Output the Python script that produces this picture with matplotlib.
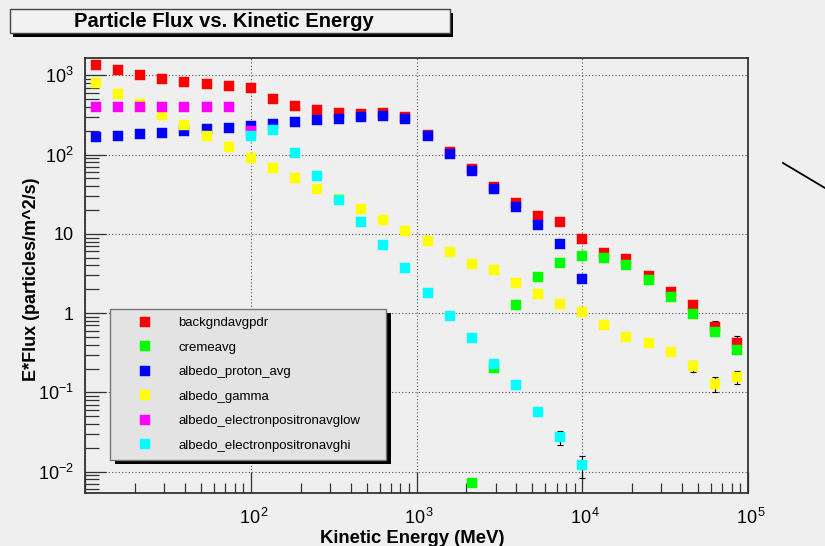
import numpy as np
import matplotlib.pyplot as plt
from matplotlib.patches import Rectangle
from matplotlib.lines import Line2D
from matplotlib.ticker import LogLocator, FuncFormatter, NullFormatter

plt.rcParams['font.family'] = ['Liberation Sans', 'DejaVu Sans']
plt.rcParams['mathtext.fontset'] = 'custom'
plt.rcParams['mathtext.rm'] = 'Liberation Sans'

# bin centres (MeV)
energy = [11.7, 15.8, 21.5, 29.3, 39.8, 54.1, 73.6, 100, 136, 185,
          251, 341, 464, 631, 858, 1166, 1585, 2154, 2929, 3981,
          5412, 7356, 10000, 13594, 18478, 25119, 34146, 46416, 63096, 85770]

# E*Flux values
backgndavgpdr = [1365, 1170, 1000, 900, 826, 779, 741, 693, 504, 406,
                 362, 339, 329, 336, 295, 179, 109, 65.3, 38.7, 24.6,
                 16.7, 14.3, 8.65, 5.69, 4.88, 2.90, 1.86, 1.26, 0.677, 0.426]
cremeavg = [0.0071, 0.202, 1.25, 2.84, 4.31, 5.28, 4.98, 4.02, 2.60, 1.59,
            0.969, 0.574, 0.347]  # starts at bin 17
albedo_proton_avg = [167, 174, 180, 189, 199, 211, 217, 230, 246, 258,
                     274, 284, 299, 308, 284, 172, 103, 61.5, 36.5, 21.7,
                     13.1, 7.48, 2.71]  # bins 0-22
albedo_gamma = [792, 582, 431, 317, 234, 174, 126, 91.6, 67.9, 50.2,
                37.2, 27.6, 20.4, 15.1, 10.8, 8.07, 5.87, 4.19, 3.48, 2.41,
                1.72, 1.32, 1.04, 0.718, 0.497, 0.421, 0.325, 0.214, 0.128, 0.158]
albedo_eplow = [396, 396, 395, 396, 396, 395, 396, 199]  # bins 0-7
albedo_ephi = [170, 206, 104, 53.2, 27.0, 14.2, 7.33, 3.68, 1.80, 0.924,
               0.482, 0.231, 0.123, 0.0569, 0.0275, 0.0120]  # bins 7-22

# visible error bars {bin: error}
err_backgnd = {28: 0.11, 29: 0.09}
err_gamma = {27: 0.035, 28: 0.027, 29: 0.03}
err_ephi = {20: 0.004, 21: 0.0055, 22: 0.0037}

fig = plt.figure(figsize=(8.25, 5.46), dpi=100, facecolor='#efefef')
ax = fig.add_axes([85/825, 1-493/546, 663/825, 435/546], facecolor='#efefef')

E = np.array(energy)
series = [
    ('backgndavgpdr', E, backgndavgpdr, '#ff0000', err_backgnd, 0),
    ('cremeavg', E[17:], cremeavg, '#00ff00', {}, 17),
    ('albedo_proton_avg', E[:23], albedo_proton_avg, '#0000ff', {}, 0),
    ('albedo_gamma', E, albedo_gamma, '#ffff00', err_gamma, 0),
    ('albedo_electronpositronavglow', E[:8], albedo_eplow, '#ff00ff', {}, 0),
    ('albedo_electronpositronavghi', E[7:23], albedo_ephi, '#00ffff', err_ephi, 7),
]

for name, x, y, col, errs, start in series:
    y = np.array(y, dtype=float)
    if errs:
        idx = [i - start for i in errs]
        ax.errorbar(x[idx], y[idx], yerr=list(errs.values()), fmt='none',
                    ecolor='black', elinewidth=0.8, capsize=2.5, capthick=0.8, zorder=2)
    ax.plot(x, y, ls='none', marker='s', ms=7, mfc=col, mec=col, mew=0.3,
            label=name, zorder=3)

ax.set_xscale('log')
ax.set_yscale('log')
ax.set_xlim(10, 1e5)
ax.set_ylim(10**-2.269, 10**3.219)

ax.grid(True, which='major', ls=(0, (1, 2)), color='#555555', lw=0.8)
ax.xaxis.set_minor_locator(LogLocator(base=10, subs=np.arange(2, 10)))
ax.yaxis.set_minor_locator(LogLocator(base=10, subs=np.arange(2, 10)))
ax.xaxis.set_minor_formatter(NullFormatter())
ax.yaxis.set_minor_formatter(NullFormatter())


def xfmt(v, pos):
    e = int(round(np.log10(v)))
    if e < 2:
        return ''
    # leading space keeps the "10" centred on the tick, like ROOT
    return r'$\mathregular{\ 10^{%d}}$' % e


def yfmt(v, pos):
    e = int(round(np.log10(v)))
    if e == 0:
        return '1'
    if e == 1:
        return '10'
    return r'$\mathregular{10^{%d}}$' % e


ax.xaxis.set_major_formatter(FuncFormatter(xfmt))
ax.yaxis.set_major_formatter(FuncFormatter(yfmt))
ax.tick_params(axis='x', which='major', direction='in', length=15, width=0.9,
               color='#333333', labelsize=13, pad=11)
ax.tick_params(axis='x', which='minor', direction='in', length=7, width=0.9, color='#333333')
ax.tick_params(axis='y', which='major', direction='in', length=15, width=0.9,
               color='#333333', labelsize=13, pad=8)
ax.tick_params(axis='y', which='minor', direction='in', length=10, width=0.9, color='#333333')
for s in ax.spines.values():
    s.set_color('#333333')
    s.set_linewidth(1.3)

ax.set_xlabel('Kinetic Energy (MeV)', fontsize=13.3, fontweight='bold')
ax.xaxis.set_label_coords(0.494, -0.086)
ax.set_ylabel('E*Flux (particles/m^2/s)', fontsize=13, fontweight='bold')
ax.yaxis.set_label_coords(-0.068, 0.491)

leg = ax.legend(loc='upper left', bbox_to_anchor=(110/825, 1-309/546, 276/825, 0),
                bbox_transform=fig.transFigure, mode='expand', borderaxespad=0,
                fontsize=9.5, handlelength=4.1, handletextpad=0.5, borderpad=0.6,
                labelspacing=0.93, fancybox=False, framealpha=1,
                facecolor='#e3e3e3', edgecolor='#777777', numpoints=1)
leg.get_frame().set_linewidth(1.0)
leg.set_zorder(5)

# black drop shadow behind legend
fig.canvas.draw()
bb = leg.get_window_extent().transformed(fig.transFigure.inverted())
ax.add_patch(Rectangle((bb.x0 + 5/825, bb.y0 - 4/546), bb.width, bb.height,
                       transform=fig.transFigure, fc='black', ec='none',
                       zorder=4.9, clip_on=False))

# title box
fig.patches.append(Rectangle((13/825, 1-36.5/546), 440/825, 24/546,
                             transform=fig.transFigure, fc='black', ec='none', zorder=1))
fig.patches.append(Rectangle((10/825, 1-33.3/546), 440/825, 24/546,
                             transform=fig.transFigure, fc='#f2f2f2', ec='#444444', lw=1, zorder=2))
fig.text(224/825, 1-21.5/546, 'Particle Flux vs. Kinetic Energy', fontsize=14.5,
         fontweight='bold', ha='center', va='center', zorder=3)

# stray line at right edge
fig.add_artist(Line2D([783/825, 1.0], [1-163/546, 1-188/546], color='black', lw=1.3))

fig.savefig('out.png', dpi=100, facecolor=fig.get_facecolor())
